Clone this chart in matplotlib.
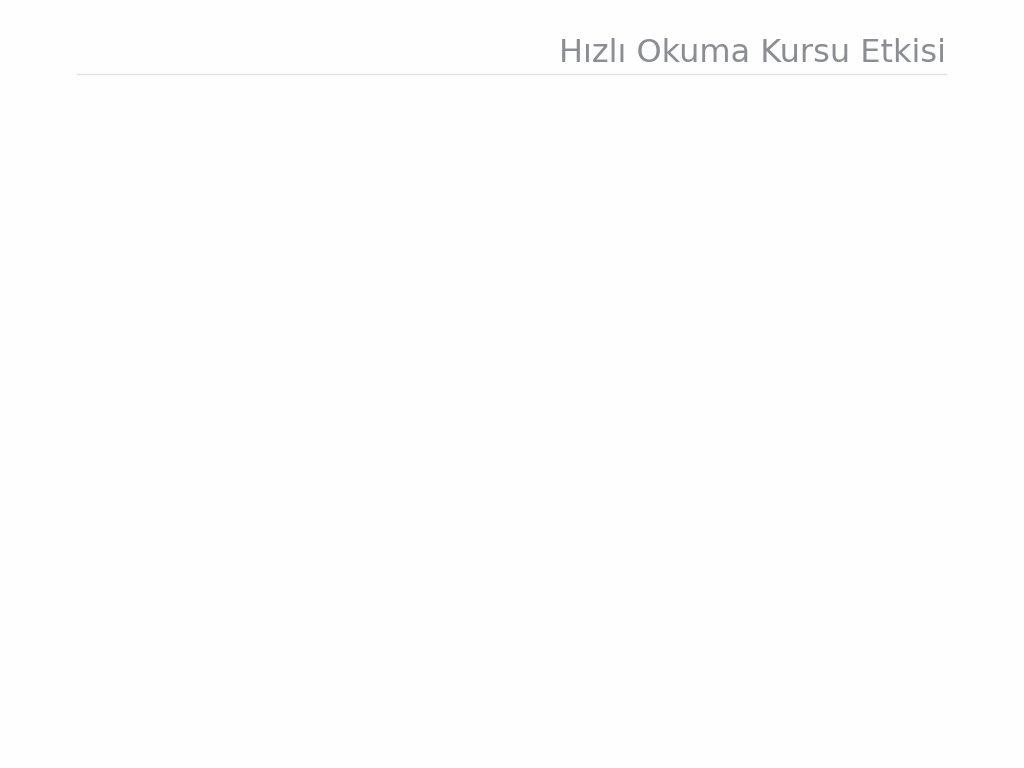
""" empty chart with a right-aligned title and a thin rule under it """
from matplotlib import pyplot as plt
from matplotlib.lines import Line2D

TITLE = "Hızlı Okuma Kursu Etkisi"

# chart has no data series
categories = []
values = []

fig = plt.figure(figsize=(10.24, 7.68), dpi=100)
fig.patch.set_facecolor('#fefefe')

ax = fig.add_axes([77 / 1024, 0.05, (946 - 77) / 1024, 0.80])
ax.bar(categories, values)
ax.set_axis_off()

# title, right aligned to the rule
fig.text(946 / 1024, 1 - 62 / 768, TITLE, ha='right', va='baseline',
         fontsize=23, color='#8a8d93', family='DejaVu Sans')

# thin separator under the title
fig.add_artist(Line2D([77 / 1024, 946 / 1024], [1 - 74 / 768, 1 - 74 / 768],
                      transform=fig.transFigure, color='#e2e2e2', lw=1))

plt.savefig('out.png', dpi=100, facecolor=fig.get_facecolor())
